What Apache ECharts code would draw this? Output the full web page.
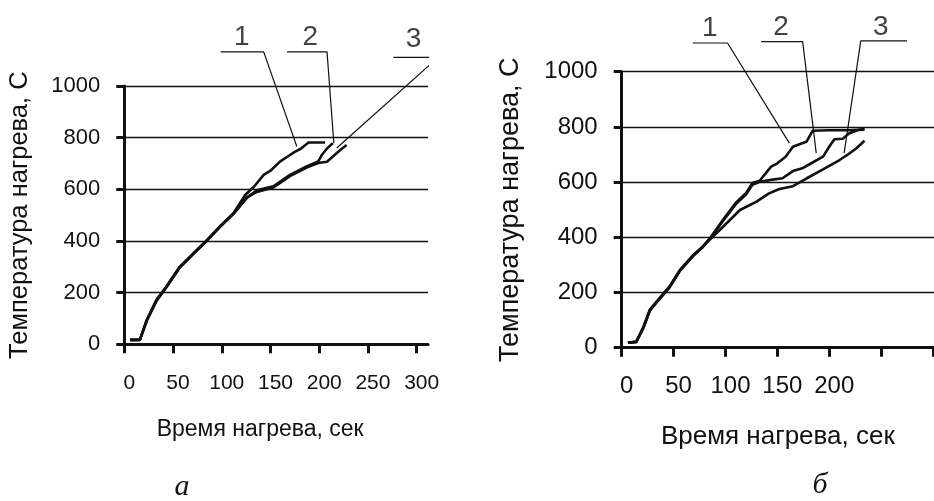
<!DOCTYPE html>
<html><head><meta charset="utf-8">
<script src="https://cdn.jsdelivr.net/npm/echarts@6/dist/echarts.min.js"></script>
<style>html,body{margin:0;padding:0;background:#fff}#c{width:934px;height:501px}</style>
</head><body><div id="c"></div>
<script>
// ---- axis ticks / labels ----
const xTicks = [0, 50, 100, 150, 200, 250, 300];
const xLabelsA = [0, 50, 100, 150, 200, 250, 300];
const xLabelsB = [0, 50, 100, 150, 200];
const xTitle = 'Время нагрева, сек';
const yTitle = 'Температура нагрева, С';
const captionA = 'а';
const captionB = 'б';

// ---- chart а : curves ----
const a1x = [6, 16, 23, 33, 43, 57, 71, 85, 98, 112, 124, 133, 143, 150, 160, 168, 175, 181, 189, 206];
const a1y = [17, 17, 94, 172, 223, 301, 353, 404, 456, 508, 578, 610, 656, 672, 708, 728, 745, 757, 781, 781];
const a2x = [6, 16, 23, 33, 43, 57, 71, 85, 98, 112, 126, 136, 153, 170, 187, 199, 203, 208, 214];
const a2y = [17, 17, 90, 168, 220, 297, 350, 402, 454, 505, 568, 596, 612, 656, 689, 708, 735, 758, 779];
const a3x = [6, 16, 23, 33, 43, 57, 71, 85, 98, 112, 126, 136, 153, 170, 187, 199, 208, 214, 221, 228];
const a3y = [17, 17, 92, 170, 221, 299, 351, 403, 455, 506, 570, 590, 607, 651, 684, 702, 707, 727, 750, 772];

// ---- chart б : curves ----
const b1x = [6, 14, 21, 27, 35, 46, 56, 69, 78, 85, 98, 110, 120, 126, 133, 144, 150, 158, 165, 172, 178, 184, 200, 220, 234];
const b1y = [18, 21, 76, 137, 173, 221, 281, 336, 366, 396, 465, 525, 561, 597, 605, 656, 668, 692, 728, 738, 746, 786, 788, 788, 790];
const b2x = [6, 14, 21, 27, 35, 46, 56, 69, 78, 85, 98, 110, 120, 126, 133, 144, 155, 165, 174, 184, 194, 200, 205, 213, 219, 227, 234];
const b2y = [18, 21, 72, 133, 170, 218, 278, 333, 364, 395, 461, 520, 556, 590, 601, 608, 614, 640, 650, 671, 692, 728, 755, 757, 776, 788, 794];
const b3x = [6, 14, 21, 27, 35, 46, 56, 69, 78, 85, 98, 114, 130, 142, 152, 165, 178, 194, 210, 218, 226, 234];
const b3y = [18, 21, 74, 135, 171, 219, 279, 334, 365, 392, 439, 499, 529, 559, 575, 585, 613, 646, 680, 700, 722, 750];

// ---- callout leaders (data coordinates) ----
const leadA1 = [[99, 1132], [143, 1132], [177, 766]];
const leadA2 = [[167, 1132], [208, 1132], [215, 779]];
const leadA3 = [[276, 1111], [322, 1111], [218, 760]];
const leadB1 = [[68.5, 1104], [102, 1104], [161.6, 741]];
const leadB2 = [[134.4, 1109], [174.4, 1109], [187.5, 705]];
const leadB3 = [[275, 1112], [230.4, 1112], [214.4, 705]];
const calloutNames = ['1', '2', '3'];
const calloutA = [[120.5, 1188], [190.7, 1188], [296.7, 1182]];
const calloutB = [[84.9, 1158], [153.6, 1162], [249.6, 1162]];

const zip = (xs, ys) => xs.map((x, i) => [x, ys[i]]);
const FONT = "'Liberation Sans', Arial, sans-serif";
const INK = '#111';

function xAxis(idx, max, labels, fs, margin, nameSize, nameGap, namePad) {
  return {
    type: 'value', gridIndex: idx, min: 0, max: max,
    axisLine: { show: true, onZero: false, lineStyle: { color: INK, width: 3 } },
    axisTick: { show: true, customValues: xTicks, length: 9, lineStyle: { color: INK, width: 3 } },
    axisLabel: { customValues: labels, color: INK, fontFamily: FONT, fontSize: fs, margin: margin,
      padding: [0, 0, 0, 10], formatter: v => String(v) },
    splitLine: { show: false },
    name: xTitle, nameLocation: 'middle', nameGap: nameGap,
    nameTextStyle: { color: INK, fontFamily: FONT, fontSize: nameSize, padding: namePad }
  };
}
function yAxis(idx, fs, margin, nameSize, nameGap) {
  return {
    type: 'value', gridIndex: idx, min: 0, max: 1000, interval: 200,
    axisLine: { show: true, lineStyle: { color: INK, width: 3 } },
    axisTick: { show: true, length: 8, lineStyle: { color: INK, width: 3 } },
    axisLabel: { color: INK, fontFamily: FONT, fontSize: fs, margin: margin, formatter: v => String(v) },
    splitLine: { show: true, lineStyle: { color: INK, width: 1.3 } },
    name: yTitle, nameLocation: 'middle', nameGap: nameGap,
    nameTextStyle: { color: INK, fontFamily: FONT, fontSize: nameSize }
  };
}
function curve(idx, xs, ys) {
  return { type: 'line', xAxisIndex: idx, yAxisIndex: idx, data: zip(xs, ys), symbol: 'none',
    lineStyle: { color: INK, width: 2.6 }, silent: true, animation: false };
}
function leader(idx, pts) {
  return { type: 'line', xAxisIndex: idx, yAxisIndex: idx, data: pts, symbol: 'none', clip: false,
    lineStyle: { color: INK, width: 1.2 }, silent: true, animation: false, z: 3 };
}
function callouts(idx, pts) {
  return { type: 'scatter', xAxisIndex: idx, yAxisIndex: idx, clip: false, symbolSize: 2,
    itemStyle: { color: 'rgba(255,255,255,0)' }, silent: true, animation: false, z: 5,
    data: pts.map((p, i) => ({ value: p, name: calloutNames[i] })),
    label: { show: true, position: 'inside', formatter: '{b}', color: INK, fontFamily: FONT, fontSize: 28 },
    labelLayout: { hideOverlap: false } };
}

const chart = echarts.init(document.getElementById('c'), null, { renderer: 'canvas' });
chart.setOption({
  animation: false,
  backgroundColor: '#fff',
  grid: [
    { left: 124.3, top: 86, width: 303.7, height: 258.3 },
    { left: 621.7, top: 71.7, width: 313.5, height: 276 }
  ],
  xAxis: [
    xAxis(0, 311.6, xLabelsA, 21, 28, 23, 74, [0, 32, 0, 0]),
    xAxis(1, 301, xLabelsB, 24, 27, 26, 76, [0, 0, 0, 0])
  ],
  yAxis: [
    yAxis(0, 22, 24, 25.5, 91),
    yAxis(1, 24, 24, 27, 98)
  ],
  graphic: [
    { type: 'text', x: 182, y: 487, style: { text: captionA, align: 'center', verticalAlign: 'middle',
      font: "italic 30px 'Liberation Serif', 'Times New Roman', serif", fill: INK } },
    { type: 'text', x: 820, y: 485, style: { text: captionB, align: 'center', verticalAlign: 'middle',
      font: "italic 30px 'Liberation Serif', 'Times New Roman', serif", fill: INK } }
  ],
  series: [
    curve(0, a1x, a1y), curve(0, a2x, a2y), curve(0, a3x, a3y),
    curve(1, b1x, b1y), curve(1, b2x, b2y), curve(1, b3x, b3y),
    leader(0, leadA1), leader(0, leadA2), leader(0, leadA3),
    leader(1, leadB1), leader(1, leadB2), leader(1, leadB3),
    callouts(0, calloutA), callouts(1, calloutB)
  ]
});
</script></body></html>
